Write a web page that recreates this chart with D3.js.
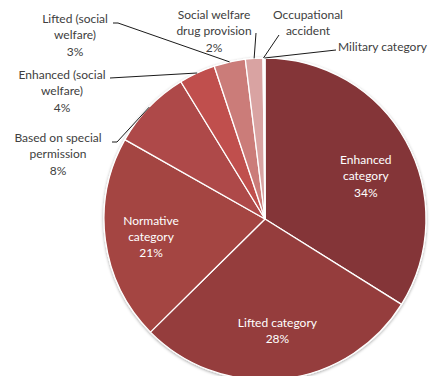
<!DOCTYPE html>
<html>
<head>
<meta charset="utf-8">
<script src="https://cdn.jsdelivr.net/npm/d3@7"></script>
<style>
  html, body { margin: 0; padding: 0; background: #ffffff; }
  svg { display: block; }
  text { font-family: Lato, "Open Sans", sans-serif; font-size: 12px; }
</style>
</head>
<body>
<svg id="chart" width="433" height="376"></svg>
<script>
// ---- data ----
const categories = [
  "Enhanced category",
  "Lifted category",
  "Normative category",
  "Based on special permission",
  "Enhanced (social welfare)",
  "Lifted (social welfare)",
  "Social welfare drug provision",
  "Occupational accident",
  "Military category"
];
const values = [33.9, 28.7, 20.6, 8.05, 3.65, 3.15, 1.75, 0.1, 0.1];
const percentLabels = ["34%", "28%", "21%", "8%", "4%", "3%", "2%", "", ""];
const labelLines = [
  ["Enhanced", "category"],
  ["Lifted category"],
  ["Normative", "category"],
  ["Based on special", "permission"],
  ["Enhanced (social", "welfare)"],
  ["Lifted (social", "welfare)"],
  ["Social welfare", "drug provision"],
  ["Occupational", "accident"],
  ["Military category"]
];
const colors = ["#843537", "#953d3d", "#a44442", "#ae4a48", "#c0504d", "#cb7b79", "#d9a3a2", "#e7c4c3", "#f0dcdb"];

// ---- layout ----
const W = 433, H = 376;
const cx = 265, cy = 219, R = 161;
const lineH = 16.3;

const svg = d3.select("#chart");
const defs = svg.append("defs");
const f = defs.append("filter").attr("id", "shadow")
  .attr("x", "-10%").attr("y", "-10%").attr("width", "120%").attr("height", "120%");
f.append("feDropShadow").attr("dx", 0).attr("dy", 1).attr("stdDeviation", 1.6)
  .attr("flood-color", "#000").attr("flood-opacity", 0.35);

const pie = d3.pie().sort(null).value(d => d);
const arcs = pie(values);
const arc = d3.arc().innerRadius(0).outerRadius(R);
const edgeArc = d3.arc().innerRadius(R).outerRadius(R);
const inArc = d3.arc().innerRadius(113).outerRadius(113);

const g = svg.append("g").attr("transform", `translate(${cx},${cy})`);

g.append("g").attr("filter", "url(#shadow)")
  .selectAll("path").data(arcs).join("path")
  .attr("d", arc)
  .attr("fill", (d, i) => colors[i])
  .attr("stroke", "#ffffff")
  .attr("stroke-width", 1.3)
  .attr("stroke-linejoin", "round");

// inside labels (small nudges relative to the slice centroid)
const insideNudge = { 0: [2, 12], 1: [0, 0], 2: [-2, 3] };
[0, 1, 2].forEach(i => {
  const [x0, y] = inArc.centroid(arcs[i]);
  const x = x0 + insideNudge[i][0];
  const lines = labelLines[i].concat([percentLabels[i]]);
  const t = g.append("text").attr("text-anchor", "middle").attr("fill", "#ffffff");
  const y0 = y + insideNudge[i][1] - (lines.length - 1) * lineH / 2;
  lines.forEach((l, k) => {
    t.append("tspan").attr("x", x).attr("y", y0 + k * lineH + 4).text(l);
  });
});

// outside labels: text anchor position and leader start points (absolute page coords)
const outside = {
  3: { x: 58, y: 138, anchor: "middle", leader: [[112, 142], [117, 142]] },
  4: { x: 62, y: 75, anchor: "middle", leader: [[110, 78]] },
  5: { x: 75, y: 19, anchor: "middle", leader: [[113, 23], [118, 23]] },
  6: { x: 214, y: 15, anchor: "middle", leader: [[256, 33]] },
  7: { x: 308, y: 15, anchor: "middle", leader: [[279, 35]] },
  8: { x: 338, y: 47, anchor: "start", leader: [[336, 50]] }
};

const root = svg.append("g");
Object.keys(outside).forEach(key => {
  const i = +key;
  const o = outside[i];
  const [ex, ey] = edgeArc.centroid(arcs[i]);
  const pts = o.leader.concat([[cx + ex, cy + ey]]);
  root.append("path")
    .attr("d", d3.line()(pts))
    .attr("fill", "none")
    .attr("stroke", "#000000")
    .attr("stroke-width", 0.9);
  const lines = labelLines[i].concat(percentLabels[i] ? [percentLabels[i]] : []);
  const t = root.append("text").attr("text-anchor", o.anchor).attr("fill", "#404040");
  lines.forEach((l, k) => {
    t.append("tspan").attr("x", o.x).attr("y", o.y + k * lineH + 4).text(l);
  });
});
</script>
</body>
</html>
